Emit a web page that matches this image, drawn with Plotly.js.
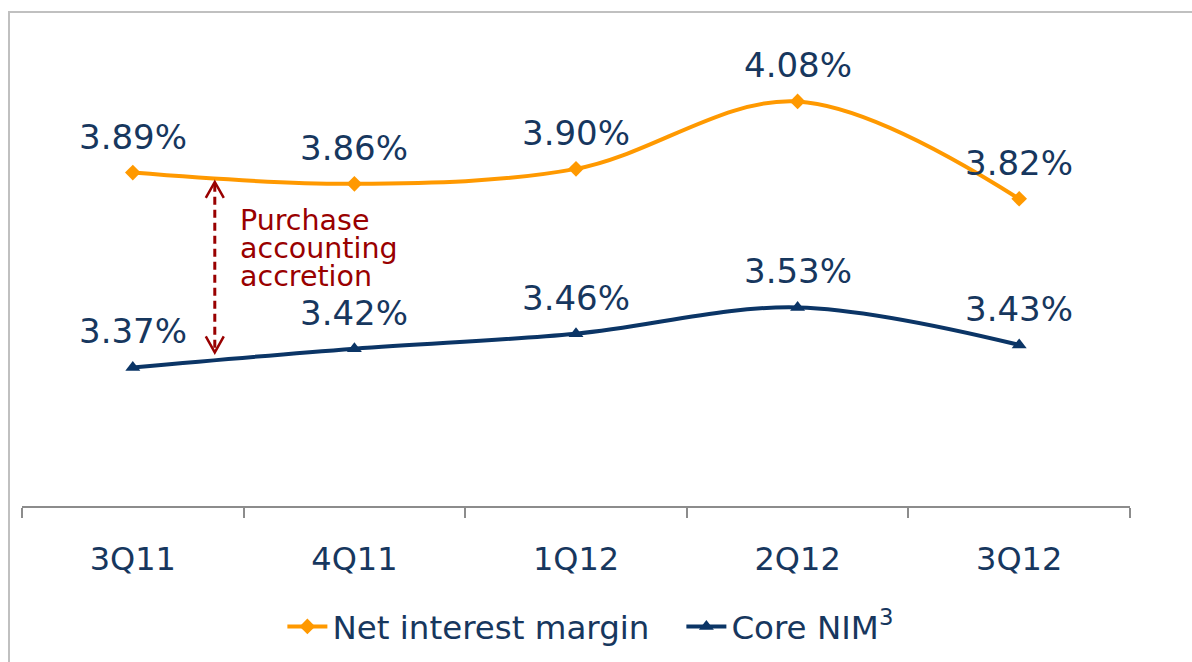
<!DOCTYPE html>
<html>
<head>
<meta charset="utf-8">
<script src="https://cdn.plot.ly/plotly-3.0.1.min.js"></script>
<style>
html,body{margin:0;padding:0;background:#fff;overflow:hidden;}
#chart{width:1192px;height:662px;}
#frame{position:absolute;left:8px;top:11px;width:2000px;height:2000px;border-left:2px solid #c0c0c0;border-top:2px solid #c0c0c0;pointer-events:none;}
</style>
</head>
<body>
<div id="chart"></div>
<div id="frame"></div>
<script>
const quarters = ["3Q11", "4Q11", "1Q12", "2Q12", "3Q12"];
const netInterestMargin = [3.89, 3.86, 3.90, 4.08, 3.82];
const coreNIM = [3.37, 3.42, 3.46, 3.53, 3.43];
const seriesNames = ["Net interest margin", "Core NIM<sup>3</sup>"];
const noteLines = ["Purchase", "accounting", "accretion"];

const FONT = "DejaVu Sans, Verdana, sans-serif";
const NAVY_TEXT = "#17375E";
const ORANGE = "#FF9900";
const NAVY = "#0B3566";
const RED = "#990000";

const traces = [
  {
    x: quarters, y: netInterestMargin, name: seriesNames[0],
    type: "scatter", mode: "lines+markers",
    line: {color: ORANGE, width: 4, shape: "spline", smoothing: 1},
    marker: {symbol: "diamond", size: 12, color: ORANGE},
    hoverinfo: "skip"
  },
  {
    x: quarters, y: coreNIM, name: seriesNames[1],
    type: "scatter", mode: "lines+markers",
    line: {color: NAVY, width: 4, shape: "spline", smoothing: 1},
    marker: {symbol: "triangle-up", size: 13, color: NAVY},
    hoverinfo: "skip"
  }
];

const annotations = [];
[netInterestMargin, coreNIM].forEach(series => {
  series.forEach((v, i) => {
    annotations.push({
      x: quarters[i], y: v, xref: "x", yref: "y",
      text: v.toFixed(2) + "%", showarrow: false,
      yshift: 36, font: {family: FONT, size: 34, color: NAVY_TEXT}
    });
  });
});

// note text, placed between the two series at the first interval
const arrowX = 0.37;
const noteY = (netInterestMargin[0] + coreNIM[0]) / 2 + 0.058;
noteLines.forEach((t, k) => {
  annotations.push({
    x: 0.475, y: noteY, xref: "x", yref: "y",
    text: t, showarrow: false, xanchor: "left", align: "left",
    yshift: (1 - k) * 28,
    font: {family: FONT, size: 28.5, color: RED}
  });
});

const topY = netInterestMargin[0] - 0.025;
const botY = coreNIM[0] + 0.04;

const shapes = [
  {type: "line", xref: "x", yref: "y", x0: arrowX, x1: arrowX, y0: topY - 0.005, y1: botY + 0.005,
   line: {color: RED, width: 3, dash: "8px,5px"}},
  {type: "path", xref: "x", yref: "y", xsizemode: "pixel", ysizemode: "pixel",
   xanchor: arrowX, yanchor: topY, path: "M-9,-16 L0,0 L9,-16",
   line: {color: RED, width: 2.5}},
  {type: "path", xref: "x", yref: "y", xsizemode: "pixel", ysizemode: "pixel",
   xanchor: arrowX, yanchor: botY, path: "M-9,16 L0,0 L9,16",
   line: {color: RED, width: 2.5}}
];

const layout = {
  width: 1192, height: 662,
  margin: {l: 22, r: 62, t: 19, b: 156, autoexpand: false},
  paper_bgcolor: "#ffffff", plot_bgcolor: "#ffffff",
  font: {family: FONT, color: NAVY_TEXT, size: 32},
  showlegend: true,
  legend: {
    orientation: "h", x: 0.235, xanchor: "left", y: -0.248, yanchor: "middle",
    font: {family: FONT, size: 32.5, color: NAVY_TEXT}, itemwidth: 40,
    entrywidth: 344, entrywidthmode: "pixels",
    bgcolor: "rgba(0,0,0,0)"
  },
  xaxis: {
    type: "category", range: [-0.5, 4.5], fixedrange: true, automargin: false,
    showline: true, linecolor: "#8c8c8c", linewidth: 2,
    ticks: "outside", tickson: "boundaries", ticklen: 10, tickwidth: 2, tickcolor: "#8c8c8c",
    showgrid: false, zeroline: false,
    tickfont: {family: FONT, size: 32, color: NAVY_TEXT},
    ticklabelstandoff: 24
  },
  yaxis: {
    range: [3.0, 4.3], visible: false, fixedrange: true, showgrid: false, zeroline: false
  },
  annotations: annotations,
  shapes: shapes
};

Plotly.newPlot("chart", traces, layout, {displayModeBar: false, staticPlot: true});
</script>
</body>
</html>
